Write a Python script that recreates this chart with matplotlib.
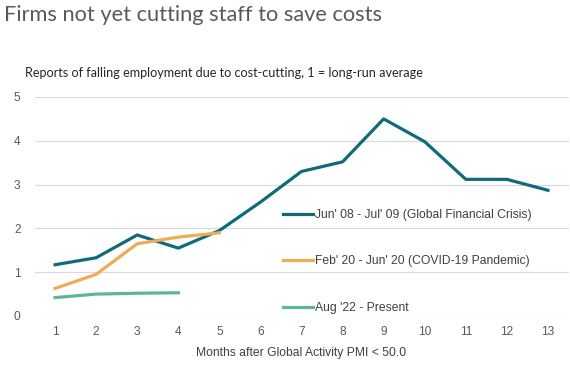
import matplotlib
matplotlib.use("Agg")
import matplotlib.pyplot as plt
import numpy as np

# months after Global Activity PMI < 50
months = list(range(1, 14))
gfc = [1.17, 1.33, 1.85, 1.55, 1.95, 2.6, 3.3, 3.52, 4.5, 3.98, 3.12, 3.12, 2.87]
covid = [0.63, 0.95, 1.65, 1.8, 1.9]
present = [0.42, 0.5, 0.52, 0.53]

labels = ["Jun' 08 - Jul' 09 (Global Financial Crisis)",
          "Feb' 20 - Jun' 20 (COVID-19 Pandemic)",
          "Aug '22 - Present"]
colors = ["#0f6b7a", "#f0ab55", "#5bb79b"]

fig = plt.figure(figsize=(5.7, 3.66), dpi=100)
ax = fig.add_axes([34.5/570, 50/366, 534/570, 219/366])

ax.plot(months, gfc, color=colors[0], lw=2.3, label=labels[0])
ax.plot(months[:len(covid)], covid, color=colors[1], lw=2.3, label=labels[1])
ax.plot(months[:len(present)], present, color=colors[2], lw=2.3, label=labels[2])

ax.set_xlim(0.5, 13.5)
ax.set_ylim(0, 5)
ax.set_xticks(months)
ax.set_yticks(range(0, 6))
ax.grid(axis="y", color="#d9d9d9", lw=0.8)
ax.set_axisbelow(True)
for s in ax.spines.values():
    s.set_visible(False)
ax.tick_params(length=0, labelsize=8.6, labelcolor="#595959")
ax.tick_params(axis="y", pad=10)
ax.tick_params(axis="x", pad=7)
for t in ax.get_xticklabels() + ax.get_yticklabels():
    t.set_family("Liberation Sans")

ax.set_xlabel("Months after Global Activity PMI < 50.0", fontsize=8.7,
              family="Liberation Sans", color="#404040", labelpad=7)

leg = ax.legend(loc="upper left", bbox_to_anchor=(283/570, (366-209)/366),
                bbox_transform=fig.transFigure, frameon=False,
                handlelength=2.5, handletextpad=0.12, labelspacing=2.85,
                prop={"family": "Liberation Sans", "size": 8.7},
                borderpad=0, borderaxespad=0)
for t in leg.get_texts():
    t.set_color("#404040")

fig.text(4/570, 1 - 21/366, "Firms not yet cutting staff to save costs",
         fontsize=15.7, family="Lato", color="#595959", va="baseline")
fig.text(25/570, 1 - 77/366,
         "Reports of falling employment due to cost-cutting, 1 = long-run average",
         fontsize=9.1, family="Lato", color="#262626", va="baseline")

fig.savefig("out.png", dpi=100)
